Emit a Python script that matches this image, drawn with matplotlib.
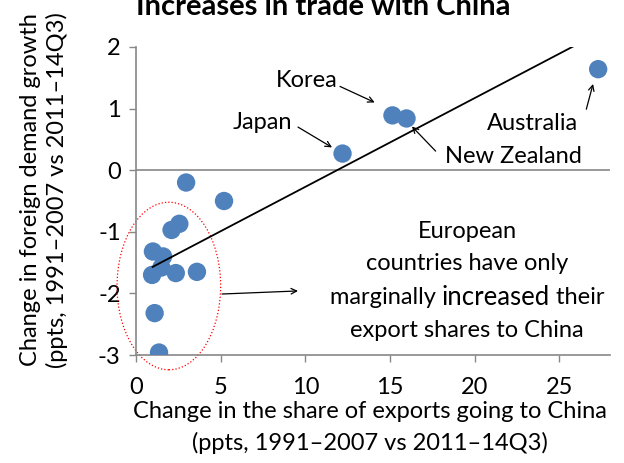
import matplotlib
matplotlib.use('Agg')
import matplotlib.pyplot as plt
from matplotlib.patches import Ellipse

plt.rcParams['font.family'] = ['Lato', 'DejaVu Sans']
plt.rcParams['axes.unicode_minus'] = False

# Change in export share to China (x) vs change in foreign demand growth (y)
share_change = [2.96, 5.2, 2.56, 2.1, 1.0, 1.6, 1.5, 0.95, 2.35, 3.6, 1.1, 1.36,
                12.2, 15.15, 15.98, 27.3]
demand_change = [-0.2, -0.5, -0.87, -0.97, -1.32, -1.4, -1.58, -1.7, -1.67, -1.65,
                 -2.32, -2.96, 0.27, 0.89, 0.84, 1.64]

# fitted trend line end points
trend_x = [0.98, 25.9]
trend_y = [-1.57, 2.02]

x_ticks = [0, 5, 10, 15, 20, 25]
y_ticks = [-3, -2, -1, 0, 1, 2]

blue = '#4F81BD'
grey = '#888888'
fs = 17

fig = plt.figure(figsize=(6.24, 4.63), dpi=100)
ax = fig.add_axes([136 / 624, 1 - 355 / 463, 474 / 624, 308 / 463])

ax.scatter(share_change, demand_change, s=175, color=blue, edgecolors='none', zorder=3)
ax.plot(trend_x, trend_y, color='black', lw=1.3, zorder=4)
ax.axhline(0, color=grey, lw=1.2, zorder=1)

ax.set_xlim(0, 28)
ax.set_ylim(-3, 2)
ax.set_xticks(x_ticks)
ax.set_yticks(y_ticks)
ax.tick_params(axis='both', direction='out', length=5, width=1, color=grey, labelsize=fs)
ax.tick_params(axis='x', pad=11)
ax.tick_params(axis='y', pad=6)
for side in ['top', 'right']:
    ax.spines[side].set_visible(False)
for side in ['left', 'bottom']:
    ax.spines[side].set_color(grey)
    ax.spines[side].set_linewidth(1.2)

# European cluster ellipse
ax.add_patch(Ellipse((1.94, -1.88), 6.12, 2.72, fill=False, edgecolor='red',
                     linestyle=':', lw=0.9, clip_on=False, zorder=2))

arrow = dict(arrowstyle='->', color='black', lw=0.9, shrinkA=0, shrinkB=0)
ax.annotate('', xy=(14.1, 1.1), xytext=(12.05, 1.36), arrowprops=arrow)
ax.text(10.1, 1.46, 'Korea', fontsize=fs, ha='center', va='center')
ax.annotate('', xy=(11.58, 0.37), xytext=(9.57, 0.70), arrowprops=arrow)
ax.text(7.44, 0.78, 'Japan', fontsize=fs, ha='center', va='center')
ax.annotate('', xy=(27.0, 1.40), xytext=(26.6, 0.99), arrowprops=arrow)
ax.text(23.45, 0.76, 'Australia', fontsize=fs, ha='center', va='center')
ax.annotate('', xy=(16.3, 0.71), xytext=(17.7, 0.31), arrowprops=arrow)
ax.text(22.3, 0.23, 'New Zealand', fontsize=fs, ha='center', va='center')
ax.annotate('', xy=(9.57, -1.96), xytext=(5.08, -2.01), arrowprops=arrow)

cx = 19.55
ax.text(cx, -1.0, 'European', fontsize=fs, ha='center', va='center')
ax.text(cx, -1.52, 'countries have only', fontsize=fs, ha='center', va='center')
ax.text(cx, -2.6, 'export shares to China', fontsize=fs, ha='center', va='center')

# third line, with "increased" a bit bigger
parts = [('marginally ', fs), ('increased', fs + 1.5), (' their', fs)]
texts = [ax.text(cx, -2.07, p, fontsize=s, ha='left', va='center') for p, s in parts]
fig.canvas.draw()
r = fig.canvas.get_renderer()
widths = [t.get_window_extent(r).width for t in texts]
x0_px = ax.transData.transform((cx, 0))[0] - sum(widths) / 2
for t, w in zip(texts, widths):
    xd = ax.transData.inverted().transform((x0_px, 0))[0]
    t.set_x(xd)
    x0_px += w

fig.text(370 / 624, 1 - 412 / 463, 'Change in the share of exports going to China',
         fontsize=fs, ha='center', va='center')
fig.text(370 / 624, 1 - 443 / 463, '(ppts, 1991\u20132007 vs 2011\u201314Q3)',
         fontsize=fs, ha='center', va='center')
fig.text(44 / 624, 1 - 190 / 463, 'Change in foreign demand growth\n(ppts, 1991\u20132007 vs 2011\u201314Q3)',
         fontsize=fs, rotation=90, ha='center', va='center', multialignment='center',
         linespacing=1.25)

fig.text(323 / 624, 1 - 15 / 463, 'Increases in trade with China', fontsize=21,
         fontweight='bold', ha='center', va='baseline')

fig.savefig('out.png', dpi=100)
